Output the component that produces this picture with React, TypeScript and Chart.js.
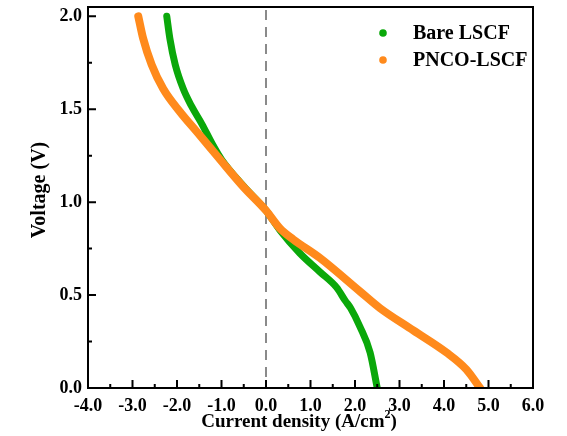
import React, { useEffect, useRef } from "react";
import { Chart, registerables } from "chart.js";

Chart.register(...registerables);

// ---- Data (current density in A/cm², voltage in V) ----
const bareJ = [-2.23, -2.16, -2.04, -1.86, -1.67, -1.44, -1.2, -1.0, -0.5, 0.0, 0.31, 0.76, 1.21, 1.59, 1.78, 1.9, 2.11, 2.34, 2.5];
const bareV = [2.0, 1.88, 1.74, 1.61, 1.515, 1.42, 1.31, 1.23, 1.085, 0.955, 0.85, 0.725, 0.625, 0.54, 0.47, 0.43, 0.33, 0.19, 0.0];

const pncoJ = [-2.87, -2.76, -2.57, -2.31, -1.93, -1.56, -1.26, -1.0, -0.5, 0.0, 0.31, 0.61, 1.21, 2.11, 2.56, 3.31, 4.06, 4.5, 4.81];
const pncoV = [2.0, 1.88, 1.74, 1.61, 1.485, 1.38, 1.295, 1.22, 1.08, 0.955, 0.86, 0.8, 0.7, 0.52, 0.43, 0.31, 0.19, 0.1, 0.0];

const seriesNames = ["Bare LSCF", "PNCO-LSCF"];
const xTickValues = [-4, -3, -2, -1, 0, 1, 2, 3, 4, 5, 6];
const yTickValues = [0, 0.5, 1.0, 1.5, 2.0];
const xTitle = "Current density (A/cm";
const xTitleSup = "2";
const yTitle = "Voltage (V)";

const GREEN = "#0aa80a";
const ORANGE = "#ff8a1c";
const FONT = "'Liberation Serif', 'Times New Roman', serif";

export default function App() {
  const ref = useRef<HTMLCanvasElement | null>(null);

  useEffect(() => {
    document.body.style.margin = "0";
    const canvas = ref.current;
    if (!canvas) return;

    const decor = {
      id: "decor",
      beforeDatasetsDraw(chart: any) {
        const { ctx, chartArea, scales } = chart;
        const x0 = scales.x.getPixelForValue(0);
        ctx.save();
        ctx.strokeStyle = "#8a8a8a";
        ctx.lineWidth = 2;
        ctx.setLineDash([10, 7]);
        ctx.beginPath();
        ctx.moveTo(x0, chartArea.top + 3);
        ctx.lineTo(x0, chartArea.bottom);
        ctx.stroke();
        ctx.restore();
      },
      afterDraw(chart: any) {
        const { ctx, chartArea, scales } = chart;
        const { left, right, top, bottom } = chartArea;
        ctx.save();
        ctx.strokeStyle = "#000";
        ctx.lineWidth = 2;
        ctx.strokeRect(left, top, right - left, bottom - top);
        ctx.beginPath();
        for (let i = 0; i < xTickValues.length; i++) {
          const v = xTickValues[i];
          const px = scales.x.getPixelForValue(v);
          ctx.moveTo(px, bottom);
          ctx.lineTo(px, bottom - 8);
          if (i < xTickValues.length - 1) {
            const m = scales.x.getPixelForValue((v + xTickValues[i + 1]) / 2);
            ctx.moveTo(m, bottom);
            ctx.lineTo(m, bottom - 4);
          }
        }
        for (let i = 0; i < yTickValues.length; i++) {
          const v = yTickValues[i];
          const py = scales.y.getPixelForValue(v);
          ctx.moveTo(left, py);
          ctx.lineTo(left + 8, py);
          if (i < yTickValues.length - 1) {
            const m = scales.y.getPixelForValue((v + yTickValues[i + 1]) / 2);
            ctx.moveTo(left, m);
            ctx.lineTo(left + 4, m);
          }
        }
        ctx.stroke();

        // legend
        const colors = [GREEN, ORANGE];
        const ly = [33, 60];
        ctx.font = `bold 20px ${FONT}`;
        ctx.textBaseline = "middle";
        ctx.textAlign = "left";
        for (let i = 0; i < 2; i++) {
          ctx.fillStyle = colors[i];
          ctx.beginPath();
          ctx.arc(383, ly[i], 3.8, 0, Math.PI * 2);
          ctx.fill();
          ctx.fillStyle = "#000";
          ctx.fillText(seriesNames[i], 413, ly[i] + 1);
        }

        // x title with superscript
        ctx.font = `bold 19px ${FONT}`;
        const w1 = ctx.measureText(xTitle).width;
        ctx.font = `bold 12px ${FONT}`;
        const w2 = ctx.measureText(xTitleSup).width;
        ctx.font = `bold 19px ${FONT}`;
        const w3 = ctx.measureText(")").width;
        const total = w1 + w2 + w3;
        let sx = 299 - total / 2;
        const by = 427;
        ctx.textBaseline = "alphabetic";
        ctx.fillText(xTitle, sx, by);
        sx += w1;
        ctx.font = `bold 12px ${FONT}`;
        ctx.fillText(xTitleSup, sx, by - 9);
        sx += w2;
        ctx.font = `bold 19px ${FONT}`;
        ctx.fillText(")", sx, by);

        // y title
        ctx.translate(40, 190);
        ctx.rotate(-Math.PI / 2);
        ctx.textAlign = "center";
        ctx.textBaseline = "middle";
        ctx.font = `bold 20px ${FONT}`;
        ctx.fillText(yTitle, 0, 0);
        ctx.restore();
      },
    };

    const toPts = (xs: number[], ys: number[]) => xs.map((x, i) => ({ x, y: ys[i] }));

    const chart = new Chart(canvas, {
      type: "scatter",
      data: {
        datasets: [
          {
            label: seriesNames[0],
            data: toPts(bareJ, bareV),
            showLine: true,
            borderColor: GREEN,
            backgroundColor: GREEN,
            borderWidth: 7,
            pointRadius: 0,
            cubicInterpolationMode: "monotone",
            borderCapStyle: "round",
            borderJoinStyle: "round",
            order: 1,
          },
          {
            label: seriesNames[1],
            data: toPts(pncoJ, pncoV),
            showLine: true,
            borderColor: ORANGE,
            backgroundColor: ORANGE,
            borderWidth: 8,
            pointRadius: 0,
            cubicInterpolationMode: "monotone",
            borderCapStyle: "round",
            borderJoinStyle: "round",
            order: 0,
          },
        ],
      } as any,
      options: {
        responsive: false,
        animation: false,
        devicePixelRatio: 1,
        layout: { padding: { left: 0, right: 34, top: 7, bottom: 0 } },
        plugins: { legend: { display: false }, tooltip: { enabled: false } },
        scales: {
          x: {
            type: "linear",
            min: -4,
            max: 6,
            grid: { display: false, drawTicks: false },
            border: { display: false },
            afterBuildTicks: (s: any) => {
              s.ticks = xTickValues.map((v) => ({ value: v }));
            },
            afterFit: (s: any) => {
              s.height = 48;
              s.paddingLeft = 0;
              s.paddingRight = 0;
            },
            ticks: {
              padding: 8,
              color: "#000",
              maxRotation: 0,
              autoSkip: false,
              font: { family: FONT, size: 18, weight: "bold" },
              callback: (v: any) => Number(v).toFixed(1),
            },
          },
          y: {
            type: "linear",
            min: 0,
            max: 2.05,
            grid: { display: false, drawTicks: false },
            border: { display: false },
            afterBuildTicks: (s: any) => {
              s.ticks = yTickValues.map((v) => ({ value: v }));
            },
            afterFit: (s: any) => {
              s.width = 88;
              s.paddingTop = 0;
              s.paddingBottom = 0;
            },
            ticks: {
              padding: 6,
              color: "#000",
              autoSkip: false,
              font: { family: FONT, size: 18, weight: "bold" },
              callback: (v: any) => Number(v).toFixed(1),
            },
          },
        },
      } as any,
      plugins: [decor],
    });

    return () => chart.destroy();
  }, []);

  return (
    <div style={{ width: 567, height: 436, background: "#fff" }}>
      <canvas ref={ref} width={567} height={436} style={{ display: "block" }} />
    </div>
  );
}
